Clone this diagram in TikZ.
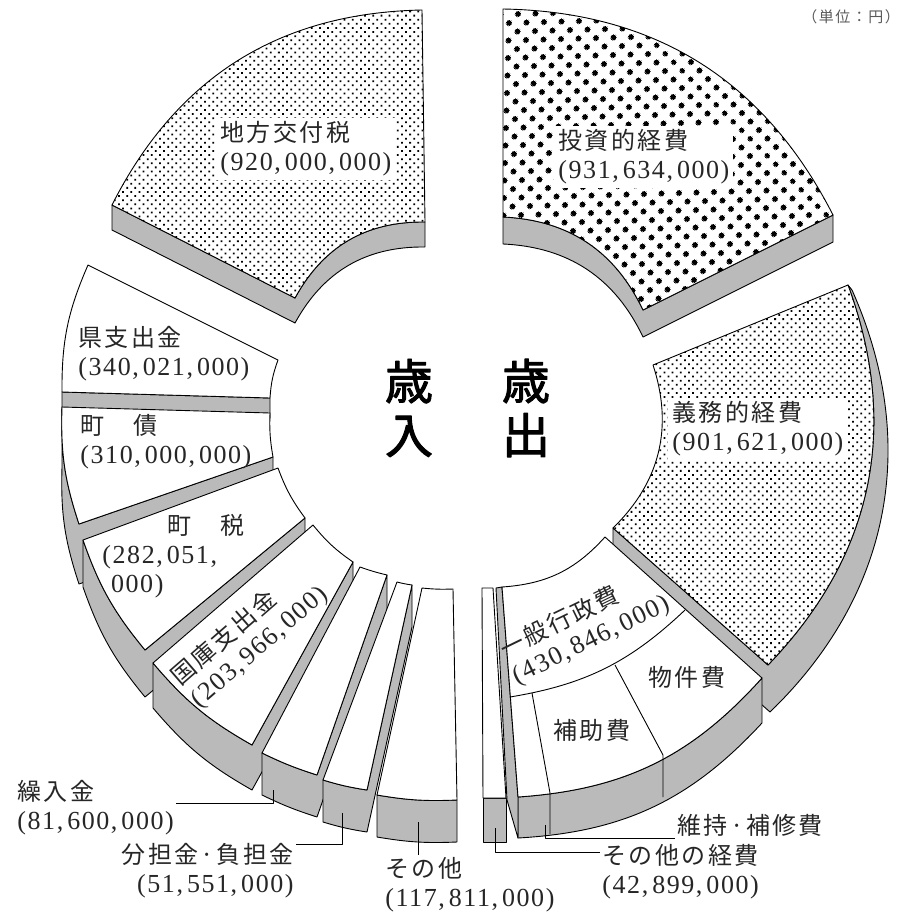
\documentclass[tikz,border=0pt]{standalone}
\usepackage{fontspec}
\setmainfont{Liberation Serif}
\newfontfamily\cjk[LetterSpace=10]{Noto Sans CJK JP}
\newfontfamily\cjkbold[FakeBold=2]{Noto Sans CJK JP}
\newfontfamily\numfont[LetterSpace=6]{Liberation Serif}
\usepackage{tikz}
\usetikzlibrary{patterns.meta,calc}
\newcommand{\kingaku}[3]{{\numfont\fontsize{26}{29}\selectfont(#1,\kern4pt#2,\kern4pt#3)}}

\begin{document}
\begin{tikzpicture}[x=1pt, y=1pt, line width=0.9pt, line join=round,
  face/.style={draw, fill=white},
  side/.style={draw, fill=black!27},
  bigdots/.style={draw, preaction={fill=white}, pattern={Dots[radius=3.2pt, distance=13pt, angle=45]}},
  finedots/.style={draw, preaction={fill=white}, pattern={Dots[radius=1.25pt, distance=5.8pt, angle=45]}},
  lbl/.style={font=\fontsize{24}{29}\selectfont, align=left, inner sep=2pt, text=black!85},
  leader/.style={draw, line width=0.8pt}]
  \useasboundingbox (0,0) rectangle (907,-922);

  % Revenue: local allocation tax
  \draw[side] (112,-205) -- (295,-298) to[bend left=31] (425,-222) -- (425,-247) to[bend right=31] (295,-323) -- (112,-230) -- cycle;
  \draw[finedots] (112,-205) to[bend left=31] (422,-10) -- (425,-222) to[bend right=31] (295,-298) -- cycle;

  % Expenditure: investment
  \draw[side] (503,-217) to[bend left=31] (643,-310) -- (833,-215) -- (833,-242) -- (643,-337) to[bend right=31] (503,-244) -- cycle;
  \draw[bigdots] (503,-9) to[bend left=31] (833,-215) -- (643,-310) to[bend right=31] (503,-217) -- cycle;

  % Revenue: prefecture
  \draw[side] (62,-392) -- (270,-398) -- (270,-418) -- (62,-412) -- cycle;
  \draw[face] (62,-392) to[bend left=12] (88,-265) -- (278,-360) to[bend right=8] (270,-398) -- cycle;

  % Expenditure: obligatory
  \draw[side] (848,-285) to[bend left=32] (768,-665) -- (613,-528) -- (613,-573) -- (770,-712) to[bend right=35] (852,-290) -- cycle;
  \draw[finedots] (848,-285) to[bend left=32] (768,-665) -- (613,-528) to[bend right=32] (653,-365) -- cycle;

  % Revenue: town bonds
  \draw[side] (62,-407) to[bend right=10] (79,-524) -- (273,-457) -- (273,-517) -- (79,-584) to[bend left=10] (62,-467) -- cycle;
  \draw[face] (79,-524) to[bend left=10] (62,-407) -- (270,-413) to[bend right=6] (273,-457) -- cycle;

  % Revenue: town tax
  \draw[side] (83,-540) to[bend right=10] (145,-650) -- (305,-518) -- (305,-565) -- (145,-697) to[bend left=10] (83,-587) -- cycle;
  \draw[face] (145,-650) to[bend left=10] (83,-540) -- (278,-468) to[bend right=8] (305,-518) -- cycle;

  % Revenue: national treasury
  \draw[side] (153,-663) to[bend right=10] (252,-745) -- (353,-562) -- (353,-607) -- (252,-790) to[bend left=10] (153,-708) -- cycle;
  \draw[face] (252,-745) to[bend left=10] (153,-663) -- (313,-525) to[bend right=8] (353,-562) -- cycle;

  % Revenue: three thin slices
  \draw[side] (262,-753) to[bend right=4] (317,-775) -- (387,-575) -- (387,-617) -- (317,-817) to[bend left=4] (262,-795) -- cycle;
  \draw[face] (317,-775) to[bend left=4] (262,-753) -- (360,-567) to[bend right=3] (387,-575) -- cycle;
  \draw[side] (323,-780) to[bend right=4] (367,-790) -- (412,-585) -- (412,-627) -- (367,-832) to[bend left=4] (323,-822) -- cycle;
  \draw[face] (367,-790) to[bend left=4] (323,-780) -- (397,-582) to[bend right=3] (412,-585) -- cycle;
  \draw[side] (377,-795) to[bend right=6] (457,-800) -- (457,-842) to[bend left=6] (377,-837) -- cycle;
  \draw[face] (457,-800) to[bend left=6] (377,-795) -- (422,-588) to[bend right=4] (453,-589) -- cycle;

  % Expenditure: other costs
  \draw[side] (483,-798) -- (506,-798) -- (506,-842) -- (483,-842) -- cycle;
  \draw[face] (506,-798) -- (483,-798) -- (482,-588) -- (493,-588) -- cycle;

  % Expenditure: general administration
  \draw[side] (518,-797) to[bend right=22] (762,-678) -- (762,-723) to[bend left=22] (518,-838) -- cycle;
  \draw[side] (496,-588) -- (502,-587) -- (518,-797) -- (518,-838) -- (507,-800) -- cycle;
  \draw[face] (762,-678) to[bend left=22] (518,-797) -- (502,-587) to[bend right=22] (605,-537) -- cycle;
  \draw (510,-697) to[bend right=17] (685,-610);
  \draw (532,-693) -- (550,-793) -- (550,-834);
  \draw (615,-665) -- (663,-755) -- (663,-797);

  % Labels on the slices
  \node[lbl, fill=white, inner sep=4pt, anchor=west] (chiho) at (216,-149) {{\cjk 地方交付税}\\\kingaku{920}{000}{000}};
  \node[lbl, fill=white, inner sep=4pt, anchor=west] (toushi) at (554,-157) {{\cjk 投資的経費}\\\kingaku{931}{634}{000}};
  \node[lbl, fill=white, inner sep=4pt, anchor=west] (gimu) at (668,-429) {{\cjk 義務的経費}\\\kingaku{901}{621}{000}};
  \node[lbl, anchor=west] (kenshi) at (76,-354) {{\cjk 県支出金}\\\kingaku{340}{021}{000}};
  \node[lbl, anchor=west] (machisai) at (78,-442) {{\cjk 町　債}\\\kingaku{310}{000}{000}};
  \node[lbl, anchor=west] (machizei) at (100,-556) {\hspace*{65pt}{\cjk 町　税}\\{\numfont\fontsize{26}{29}\selectfont(282,\kern4pt051,}\\{\numfont\fontsize{26}{29}\selectfont\phantom{(}000)}};
  \node[lbl, rotate=41] (kokko) at (250,-636) {{\cjk 国庫支出金}\\\kingaku{203}{966}{000}};
  \node[lbl, rotate=26] (ippan) at (585,-627) {{\cjk 一般行政費}\\\kingaku{430}{846}{000}};
  \node[lbl] (bukken) at (687,-677) {\cjk 物件費};
  \node[lbl] (hojo) at (592,-730) {\cjk 補助費};

  % Centre titles and unit
  \node[font=\cjkbold\fontsize{48}{54}\selectfont, align=center] (sainyu) at (409,-408) {歳\\入};
  \node[font=\cjkbold\fontsize{48}{54}\selectfont, align=center] (saishutsu) at (526,-408) {歳\\出};
  \node[font=\cjk\fontsize{15}{18}\selectfont, text=black!65] (tani) at (851,-17) {（単位：円）};

  % Outside labels with leaders
  \node[lbl, anchor=west] (kuriire) at (15,-808) {{\cjk 繰入金}\\\kingaku{81}{600}{000}};
  \node[lbl, align=right, anchor=east] (buntan) at (296,-871) {{\cjk 分担金·負担金}\\\kingaku{51}{551}{000}};
  \node[lbl, anchor=west] (sonota) at (383,-885) {{\cjk その他}\\\kingaku{117}{811}{000}};
  \node[lbl, anchor=west] (keihi) at (600,-872) {{\cjk その他の経費}\\\kingaku{42}{899}{000}};
  \node[lbl, anchor=west] (iji) at (675,-825) {\cjk 維持·補修費};

  \coordinate (kuriire-tip) at (273,-790);
  \coordinate (buntan-tip) at (342,-813);
  \coordinate (sonota-tip) at (418,-822);
  \coordinate (keihi-tip) at (495,-828);
  \coordinate (iji-tip) at (545,-825);
  \draw[leader] (kuriire-tip) |- ([yshift=5pt]kuriire.east);
  \draw[leader] (buntan-tip) |- ([yshift=-3pt]buntan.north east);
  \draw[leader] (sonota-tip) -- (sonota-tip |- sonota.north);
  \draw[leader] (keihi-tip) |- ([yshift=-10pt]keihi.north west);
  \draw[leader] (iji-tip) |- (iji.south west);
\end{tikzpicture}
\end{document}
